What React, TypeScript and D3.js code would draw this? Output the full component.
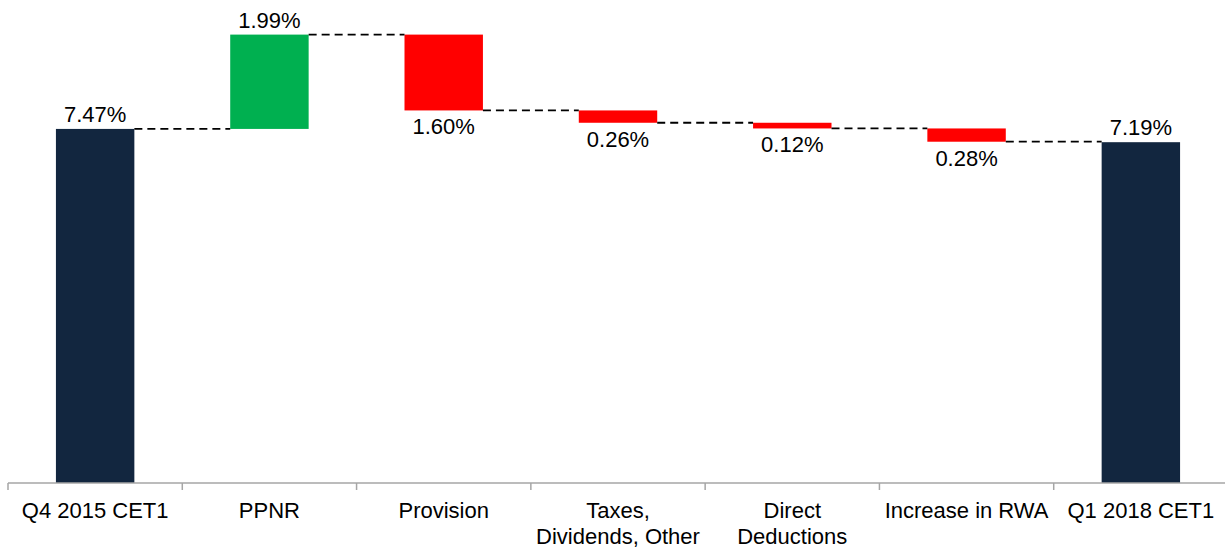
import React from "react";
import * as d3 from "d3";

const categories: string[][] = [
  ["Q4 2015 CET1"],
  ["PPNR"],
  ["Provision"],
  ["Taxes,", "Dividends, Other"],
  ["Direct", "Deductions"],
  ["Increase in RWA"],
  ["Q1 2018 CET1"],
];
const deltas: number[] = [7.47, 1.99, -1.6, -0.26, -0.12, -0.28, 7.19];
const kinds: string[] = ["total", "delta", "delta", "delta", "delta", "delta", "total"];
const labels: string[] = ["7.47%", "1.99%", "1.60%", "0.26%", "0.12%", "0.28%", "7.19%"];

const W = 1225;
const H = 550;
const left = 8;
const right = 1228;
const baseY = 483;
const unit = 47.4;

export default function App() {
  const x = d3
    .scaleBand<number>()
    .domain(d3.range(categories.length))
    .range([left, right])
    .paddingInner(0.55)
    .paddingOuter(0.275);
  const y = d3.scaleLinear().domain([0, 10]).range([baseY, baseY - 10 * unit]);

  let run = 0;
  const bars = deltas.map((d, i) => {
    let start: number, end: number;
    if (kinds[i] === "total") {
      start = 0;
      end = d;
      run = d;
    } else {
      start = run;
      end = run + d;
      run = end;
    }
    return { i, start, end, d };
  });

  const step = (right - left) / categories.length;
  const ticks = d3.range(categories.length + 1).map((k) => left + k * step);
  const color = (b: { i: number; d: number }) =>
    kinds[b.i] === "total" ? "#12263F" : b.d >= 0 ? "#00B050" : "#FF0000";

  return (
    <svg width={W} height={H} style={{ position: "absolute", left: 0, top: 0 }} fontFamily="Liberation Sans, Arial, sans-serif">
      <rect width={W} height={H} fill="#fff" />
      {bars.map((b) => {
        const top = y(Math.max(b.start, b.end));
        const bot = y(Math.min(b.start, b.end));
        return (
          <rect key={b.i} x={x(b.i)} y={top} width={x.bandwidth()} height={bot - top} fill={color(b)} />
        );
      })}
      {bars.slice(0, -1).map((b) => {
        const x1 = (x(b.i) as number) + x.bandwidth();
        const x2 = x(b.i + 1) as number;
        return (
          <line key={"c" + b.i} x1={x1} x2={x2} y1={y(b.end)} y2={y(b.end)} stroke="#000" strokeWidth={1.8} strokeDasharray="8,5" />
        );
      })}
      {bars.map((b) => {
        const cx = (x(b.i) as number) + x.bandwidth() / 2;
        const above = kinds[b.i] === "total" || b.d >= 0;
        const yy = above ? y(Math.max(b.start, b.end)) - 7 : y(Math.min(b.start, b.end)) + 24;
        return (
          <text key={"l" + b.i} x={cx} y={yy} textAnchor="middle" fontSize={22} fill="#000">
            {labels[b.i]}
          </text>
        );
      })}
      <line x1={left} x2={right} y1={baseY} y2={baseY} stroke="#A6A6A6" strokeWidth={1.5} />
      {ticks.map((t, k) => (
        <line key={"t" + k} x1={t} x2={t} y1={baseY} y2={baseY + 7} stroke="#A6A6A6" strokeWidth={1.5} />
      ))}
      {categories.map((c, i) => {
        const cx = (x(i) as number) + x.bandwidth() / 2;
        return (
          <text key={"x" + i} x={cx} y={518} textAnchor="middle" fontSize={22} fill="#000">
            {c.map((line, j) => (
              <tspan key={j} x={cx} dy={j === 0 ? 0 : 26}>
                {line}
              </tspan>
            ))}
          </text>
        );
      })}
    </svg>
  );
}
